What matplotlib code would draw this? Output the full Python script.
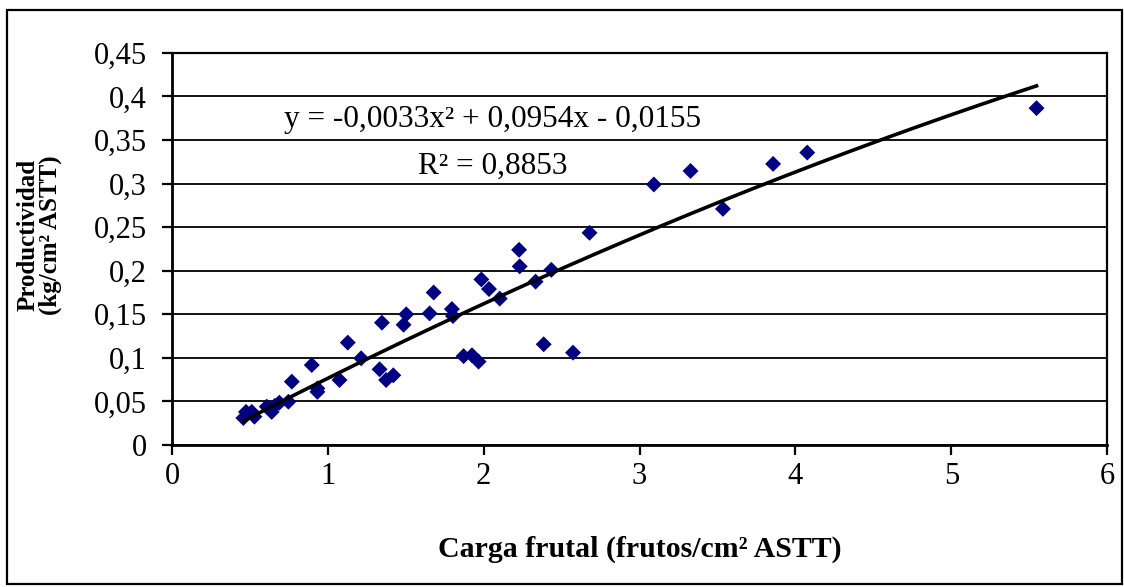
import matplotlib.pyplot as plt
import numpy as np
from matplotlib.patches import Rectangle

plt.rcParams['font.family'] = ['Liberation Serif', 'DejaVu Serif']

# carga frutal (frutos/cm2 ASTT)
carga = [0.458, 0.475, 0.512, 0.529, 0.608, 0.640, 0.660, 0.689, 0.747, 0.769,
         0.897, 0.933, 0.933, 1.075, 1.128, 1.214, 1.332, 1.347, 1.374, 1.420,
         1.486, 1.503, 1.653, 1.679, 1.796, 1.803, 1.871, 1.925, 1.967, 1.985,
         2.034, 2.103, 2.227, 2.231, 2.333, 2.385, 2.434, 2.573, 2.679, 3.092,
         3.327, 3.535, 3.857, 4.076, 5.547]
# productividad (kg/cm2 ASTT)
prod = [0.031, 0.038, 0.038, 0.0325, 0.044, 0.038, 0.045, 0.0486, 0.0497, 0.0727,
        0.0918, 0.065, 0.061, 0.0746, 0.1175, 0.0995, 0.0869, 0.1404, 0.0746, 0.080,
        0.138, 0.150, 0.151, 0.175, 0.156, 0.148, 0.102, 0.103, 0.0957, 0.190,
        0.179, 0.168, 0.224, 0.205, 0.1875, 0.1156, 0.201, 0.106, 0.2435, 0.299,
        0.3145, 0.271, 0.3226, 0.3356, 0.3866]

# polinomio de ajuste (orden 2)
coef = [-0.0033, 0.0954, -0.0155]
r2 = 0.8853

fig = plt.figure(figsize=(11.24, 5.87), dpi=100)
ax = fig.add_axes([0.153, 0.2419, 0.832, 0.668])

ax.scatter(carga, prod, marker='D', s=66, color='#000080', edgecolors='none', zorder=3)

xt = np.linspace(min(carga), max(carga), 200)
ax.plot(xt, np.polyval(coef, xt), color='black', lw=2.6, zorder=4)

ax.set_xlim(0, 6)
ax.set_ylim(0, 0.45)
ax.set_xticks(range(7))
ax.set_yticks(np.arange(0, 0.451, 0.05))
ax.set_yticklabels(['0', '0,05', '0,1', '0,15', '0,2', '0,25', '0,3', '0,35', '0,4', '0,45'])
ax.yaxis.grid(True, color='black', lw=1.3)
ax.set_axisbelow(True)
for s in ax.spines.values():
    s.set_color('black')
    s.set_linewidth(1.6)
ax.spines['left'].set_linewidth(2)
ax.spines['bottom'].set_linewidth(2)
ax.tick_params(axis='both', direction='out', length=7, width=1.6, labelsize=22, colors='black')
ax.tick_params(axis='y', pad=11)
ax.tick_params(axis='x', pad=5)

ax.text(2.06, 0.373, 'y = -0,0033x² + 0,0954x - 0,0155', ha='center', va='center', fontsize=22.5)
ax.text(2.06, 0.320, 'R² = 0,8853', ha='center', va='center', fontsize=22.5)

fig.text(0.569, 0.065, 'Carga frutal (frutos/cm² ASTT)', ha='center', va='center',
         fontsize=21.5, fontweight='bold')
fig.text(0.035, 0.6, 'Productividad\n(kg/cm² ASTT)', ha='center', va='center', rotation=90,
         fontsize=18, fontweight='bold', linespacing=0.95, multialignment='center')

# marco exterior del grafico
fig.patches.append(Rectangle((7 / 1124, 3 / 587), 1115 / 1124, 1 - 13 / 587,
                             transform=fig.transFigure, fill=False, ec='black', lw=1.6))

fig.savefig('out.png', dpi=100)
